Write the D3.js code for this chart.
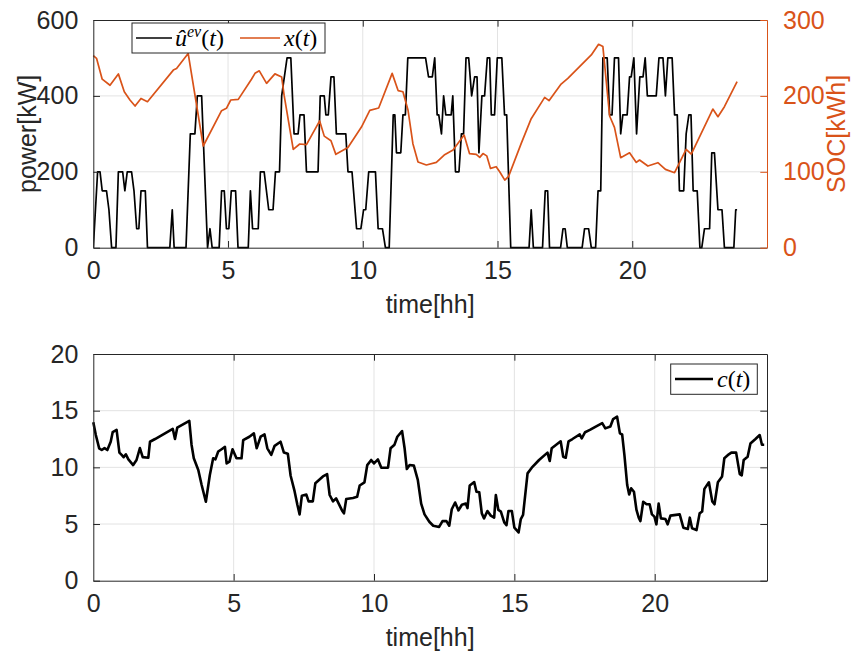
<!DOCTYPE html>
<html>
<head>
<meta charset="utf-8">
<script src="https://cdn.jsdelivr.net/npm/d3@7"></script>
<style>
  html, body { margin: 0; padding: 0; background: #ffffff; }
  svg { display: block; }
</style>
</head>
<body>
<svg id="chart" width="852" height="653"></svg>
<script>
// ---------------- data ----------------
const uTime = [0,0.16,0.25,0.33,0.49,0.58,0.68,0.84,0.93,1.09,1.17,1.26,1.42,1.51,1.61,1.69,1.77,1.93,2.01,2.84,2.93,3.0,3.44,3.60,3.77,3.86,4.02,4.24,4.33,4.41,4.67,4.76,4.86,4.94,5.03,5.12,5.28,5.37,5.75,5.83,5.91,6.12,6.2,6.34,6.51,6.67,6.76,6.91,6.99,7.19,7.33,7.45,7.6,7.67,7.82,7.91,8.34,8.42,8.57,8.63,8.72,8.82,8.93,9.02,9.37,9.45,9.6,9.77,9.93,10.03,10.11,10.22,10.47,10.57,10.73,10.84,10.98,11.13,11.19,11.25,11.41,11.49,11.58,11.67,12.33,12.44,12.58,12.67,12.76,12.82,12.92,13.0,13.08,13.28,13.34,13.44,13.57,13.66,13.74,13.83,13.93,14.04,14.15,14.24,14.31,14.42,14.52,14.62,14.71,14.77,14.89,14.99,15.16,15.26,15.34,15.49,16.17,16.25,16.33,16.67,16.77,16.86,16.93,17.34,17.43,17.51,17.59,18.14,18.23,18.38,18.48,18.64,18.73,18.83,18.91,19.07,19.16,19.25,19.34,19.49,19.57,19.65,19.81,19.9,19.96,20.06,20.16,20.28,20.4,20.48,20.56,20.89,20.99,21.14,21.23,21.32,21.48,21.57,21.67,21.75,21.91,22.0,22.1,22.18,22.26,22.41,22.51,22.58,22.68,22.87,22.95,23.05,23.18,23.33,23.42,23.77,23.84,23.89];
const uPower = [0,200,200,150,150,100,0,0,200,200,150,200,200,150,50,50,150,150,0,0,100,0,0,300,300,400,400,0,50,0,0,150,150,50,50,150,150,0,0,150,50,50,200,200,100,100,200,200,400,500,500,300,300,350,350,200,200,400,400,350,350,450,450,300,300,200,200,50,50,100,100,200,200,50,50,0,0,350,350,250,250,350,350,500,500,450,450,500,350,350,300,400,350,350,400,200,200,300,300,500,500,400,450,450,250,400,400,500,500,350,350,500,500,350,350,0,0,100,0,0,150,150,0,0,50,50,0,0,50,50,0,0,150,150,500,500,350,350,500,500,300,350,350,450,450,500,300,450,450,500,400,400,500,500,400,500,500,350,350,150,150,300,350,350,150,150,0,0,50,50,250,250,100,100,0,0,100,100];

const xTime = [0,0.12,0.33,0.62,0.93,1.15,1.36,1.55,1.77,2.01,2.97,3.09,3.52,4.08,4.76,4.94,5.1,5.38,5.87,6.0,6.16,6.43,6.74,6.99,7.08,7.42,7.66,7.91,8.4,8.57,8.82,9.0,9.45,9.95,10.26,10.59,11.09,11.31,11.49,11.68,11.86,12.05,12.36,12.73,13.02,13.35,13.76,13.96,14.21,14.34,14.46,14.6,14.74,14.95,15.08,15.27,15.41,15.88,16.25,16.75,16.91,17.36,17.61,18.48,18.75,18.91,19.16,19.34,19.57,19.9,20.15,20.27,20.58,20.95,21.23,21.57,22.0,22.19,22.99,23.18,23.42,23.89];
const xSOC = [253,249.5,222,214,229,205.5,194.6,186.6,196.7,192.3,234,236,256,134,180.5,183.6,194.6,195.4,222,229.7,233,216.5,229,225,201,129.6,136.6,135.7,167,147,141,123,132,159,181,184,229.7,207,205.5,181,137,113,109,112.4,122,128.7,148.4,124,123,119,124,121,104.5,106.7,100,89,94,137.5,170,198,193.7,215.6,223,254,268,265,173.5,158.5,118.6,125,112.4,115.5,107.6,112,103.2,98.8,129.6,123.4,182.7,172.6,185.8,218.7];

const cTime = [0,0.09,0.21,0.30,0.4,0.5,0.62,0.69,0.83,0.93,1.01,1.08,1.16,1.25,1.42,1.54,1.66,1.76,1.96,2.02,2.2,2.83,2.91,2.99,3.42,3.5,3.58,3.74,3.86,4.01,4.15,4.27,4.35,4.45,4.57,4.69,4.75,4.85,4.96,5.1,5.28,5.34,5.56,5.72,5.82,5.96,6.1,6.2,6.34,6.46,6.67,6.79,6.93,7.03,7.17,7.27,7.35,7.43,7.59,7.67,7.82,7.91,8.18,8.33,8.42,8.54,8.65,8.86,8.93,9.01,9.25,9.4,9.49,9.66,9.76,9.9,10.0,10.14,10.26,10.5,10.59,10.73,10.83,11.0,11.09,11.17,11.27,11.42,11.56,11.68,11.8,11.97,12.11,12.32,12.44,12.58,12.68,12.77,12.89,13.01,13.13,13.27,13.33,13.41,13.57,13.65,13.75,13.84,13.92,14.04,14.16,14.28,14.34,14.43,14.52,14.64,14.72,14.79,14.91,15.0,15.15,15.23,15.31,15.47,15.62,15.88,16.18,16.26,16.33,16.65,16.74,16.83,16.93,17.07,17.33,17.4,17.52,17.69,17.9,18.13,18.24,18.42,18.52,18.66,18.76,18.84,18.92,19.02,19.09,19.16,19.26,19.35,19.43,19.49,19.59,19.71,19.82,19.9,19.99,20.06,20.14,20.22,20.38,20.46,20.56,20.89,21.02,21.18,21.25,21.33,21.49,21.6,21.69,21.77,21.93,22.05,22.13,22.25,22.4,22.48,22.64,22.73,22.9,23.03,23.1,23.17,23.31,23.41,23.59,23.74,23.82,23.9];
const cPrice = [13.97,12.85,11.68,11.53,11.7,11.53,12.26,13.1,13.3,11.3,11.1,10.9,11.15,10.7,10.2,10.65,11.7,10.9,10.85,12.26,12.5,13.4,12.5,13.5,14.1,12.0,10.8,9.76,8.44,6.97,9.3,10.8,10.7,11.4,11.6,11.8,10.35,10.5,11.6,10.8,10.8,12.4,12.7,13.0,11.68,12.7,12.9,11.68,11.1,11.9,12.26,11.3,11.2,9.26,7.9,6.7,5.85,7.5,7.6,7.0,7.0,8.6,9.2,9.4,7.56,7.0,7.26,6.2,5.94,7.2,7.3,7.4,8.4,8.68,10.2,10.65,10.35,10.7,9.97,9.97,11.68,12.0,12.7,13.2,11.68,9.85,10.2,10.15,8.9,6.8,5.85,5.2,4.85,4.74,5.26,5.26,4.85,6.3,6.9,6.2,6.7,6.8,6.4,8.4,8.7,7.85,7.8,5.94,5.5,6.15,5.74,5.56,7.56,6.24,6.1,5.15,4.9,6.15,6.15,4.68,4.26,5.44,5.8,9.47,9.97,10.65,11.3,10.56,11.68,12.3,10.94,10.85,12.3,12.5,12.9,12.56,13.1,13.3,13.6,13.9,13.44,13.6,14.26,14.47,13.0,12.9,11.1,8.44,7.6,8.15,7.85,6.24,5.56,5.26,6.97,6.74,6.74,5.85,5.65,4.97,6.8,5.5,5.44,4.97,5.74,5.85,4.68,4.56,5.56,4.62,4.47,5.94,6.1,8.1,8.68,7.0,6.74,8.68,9.2,10.8,11.15,11.3,11.3,9.4,9.3,10.65,10.94,12.1,12.5,12.85,12.0,12.0];

const timeTicks = [0, 5, 10, 15, 20];
const powerTicks = [0, 200, 400, 600];
const socTicks = [0, 100, 200, 300];
const priceTicks = [0, 5, 10, 15, 20];

// ---------------- styling ----------------
const AX = "#262626";
const GRID = "#e3e3e3";
const ORANGE = "#D95319";
const FONT = "'Liberation Sans', Arial, sans-serif";
const SERIF = "'Liberation Serif', 'DejaVu Serif', serif";
const FS = 25;
const TICK = 6.7;

const svg = d3.select("#chart");

function panel(opt) {
  const {left, right, top, bottom} = opt;
  const g = svg.append("g");
  const x = d3.scaleLinear().domain(opt.xDomain).range([left, right]);
  const y = d3.scaleLinear().domain(opt.yDomain).range([bottom, top]);

  // grid
  g.append("g").selectAll("line.gx").data(opt.xTicks.filter(t => t > opt.xDomain[0]))
    .join("line").attr("x1", d => x(d)).attr("x2", d => x(d))
    .attr("y1", top).attr("y2", bottom).attr("stroke", GRID).attr("stroke-width", 1);
  g.append("g").selectAll("line.gy").data(opt.yTicks.filter(t => t > opt.yDomain[0] && t < opt.yDomain[1]))
    .join("line").attr("x1", left).attr("x2", right)
    .attr("y1", d => y(d)).attr("y2", d => y(d)).attr("stroke", GRID).attr("stroke-width", 1);

  return {g, x, y};
}

function frame(p, opt) {
  const {g, x, y} = p;
  const {left, right, top, bottom} = opt;
  // bottom axis
  const xb = d3.axisBottom(x).tickValues(opt.xTicks).tickSizeInner(-TICK).tickSizeOuter(0).tickPadding(14);
  const gb = g.append("g").attr("transform", `translate(0,${bottom})`).call(xb);
  // top mirror ticks
  const xt = d3.axisTop(x).tickValues(opt.xTicks).tickSizeInner(-TICK).tickSizeOuter(0).tickFormat("");
  const gt = g.append("g").attr("transform", `translate(0,${top})`).call(xt);
  // left axis
  const yl = d3.axisLeft(y).tickValues(opt.yTicks).tickSizeInner(-TICK).tickSizeOuter(0).tickPadding(15);
  const gl = g.append("g").attr("transform", `translate(${left},0)`).call(yl);
  // right axis
  let yr;
  if (opt.rightScale) {
    yr = d3.axisRight(opt.rightScale).tickValues(opt.rightTicks).tickSizeInner(-TICK).tickSizeOuter(0).tickPadding(16);
  } else {
    yr = d3.axisRight(y).tickValues(opt.yTicks).tickSizeInner(-TICK).tickSizeOuter(0).tickFormat("");
  }
  const gr = g.append("g").attr("transform", `translate(${right},0)`).call(yr);

  [gb, gt, gl].forEach(a => {
    a.selectAll("path.domain").attr("stroke", AX).attr("stroke-width", 1);
    a.selectAll(".tick line").attr("stroke", AX).attr("stroke-width", 1);
    a.selectAll(".tick text").attr("fill", AX).style("font-family", FONT).style("font-size", FS + "px");
  });
  const rc = opt.rightColor || AX;
  gr.selectAll("path.domain").attr("stroke", rc).attr("stroke-width", 1);
  gr.selectAll(".tick line").attr("stroke", rc).attr("stroke-width", 1);
  gr.selectAll(".tick text").attr("fill", rc).style("font-family", FONT).style("font-size", FS + "px");
  // remove overlapping extreme tick marks on box corners (keep labels)
  [gb, gt].forEach(a => a.selectAll(".tick").filter(d => d === opt.xDomain[0]).select("line").remove());
}

// ---------------- top panel ----------------
const T = {left: 93.3, right: 767, top: 20, bottom: 247.7,
  xDomain: [0, 25], yDomain: [0, 600], xTicks: timeTicks, yTicks: powerTicks};
const pT = panel(T);
const ySOC = d3.scaleLinear().domain([0, 300]).range([T.bottom, T.top]);

const clipT = svg.append("clipPath").attr("id", "clipT").append("rect")
  .attr("x", T.left).attr("y", T.top - 2).attr("width", T.right - T.left).attr("height", T.bottom - T.top + 4);

const uData = uTime.map((t, i) => [t, uPower[i]]);
const xData = xTime.map((t, i) => [t, xSOC[i]]);

pT.g.append("path").datum(uData)
  .attr("clip-path", "url(#clipT)")
  .attr("fill", "none").attr("stroke", "#000").attr("stroke-width", 1.7).attr("stroke-linejoin", "round")
  .attr("d", d3.line().x(d => pT.x(d[0])).y(d => pT.y(d[1])));

pT.g.append("path").datum(xData)
  .attr("fill", "none").attr("stroke", ORANGE).attr("stroke-width", 1.7).attr("stroke-linejoin", "round")
  .attr("d", d3.line().x(d => pT.x(d[0])).y(d => ySOC(d[1])));

frame(pT, Object.assign({}, T, {rightScale: ySOC, rightTicks: socTicks, rightColor: ORANGE}));

// top legend
const lgT = svg.append("g");
lgT.append("rect").attr("x", 132).attr("y", 23).attr("width", 193).attr("height", 30)
  .attr("fill", "#fff").attr("stroke", AX).attr("stroke-width", 1);
lgT.append("line").attr("x1", 136).attr("x2", 172).attr("y1", 38).attr("y2", 38)
  .attr("stroke", "#000").attr("stroke-width", 1.7);
const t1 = lgT.append("text").attr("x", 175).attr("y", 46)
  .style("font-family", SERIF).style("font-size", "24px").style("font-style", "italic").attr("fill", "#000");
t1.append("tspan").text("û");
t1.append("tspan").attr("dy", -9).style("font-size", "16px").text("ev");
t1.append("tspan").attr("dy", 9).style("font-style", "normal").text("(");
t1.append("tspan").text("t");
t1.append("tspan").style("font-style", "normal").text(")");
lgT.append("line").attr("x1", 240).attr("x2", 280).attr("y1", 38).attr("y2", 38)
  .attr("stroke", ORANGE).attr("stroke-width", 1.7);
const t2 = lgT.append("text").attr("x", 284).attr("y", 46)
  .style("font-family", SERIF).style("font-size", "24px").style("font-style", "italic").attr("fill", "#000");
t2.append("tspan").text("x");
t2.append("tspan").style("font-style", "normal").text("(");
t2.append("tspan").text("t");
t2.append("tspan").style("font-style", "normal").text(")");

// top labels
svg.append("text").attr("transform", `translate(36,${(T.top + T.bottom) / 2}) rotate(-90)`)
  .attr("text-anchor", "middle").style("font-family", FONT).style("font-size", FS + "px").attr("fill", AX)
  .text("power[kW]");
svg.append("text").attr("transform", `translate(845,${(T.top + T.bottom) / 2}) rotate(-90)`)
  .attr("text-anchor", "middle").style("font-family", FONT).style("font-size", FS + "px").attr("fill", ORANGE)
  .text("SOC[kWh]");
svg.append("text").attr("x", (T.left + T.right) / 2).attr("y", 313)
  .attr("text-anchor", "middle").style("font-family", FONT).style("font-size", FS + "px").attr("fill", AX)
  .text("time[hh]");

// ---------------- bottom panel ----------------
const B = {left: 93.3, right: 767, top: 354, bottom: 580.7,
  xDomain: [0, 24], yDomain: [0, 20], xTicks: timeTicks, yTicks: priceTicks};
const pB = panel(B);
const cData = cTime.map((t, i) => [t, cPrice[i]]);
pB.g.append("path").datum(cData)
  .attr("fill", "none").attr("stroke", "#000").attr("stroke-width", 2.6).attr("stroke-linejoin", "round")
  .attr("d", d3.line().x(d => pB.x(d[0])).y(d => pB.y(d[1])));
frame(pB, B);

// bottom legend
const lgB = svg.append("g");
lgB.append("rect").attr("x", 670.7).attr("y", 364).attr("width", 86.6).attr("height", 30.3)
  .attr("fill", "#fff").attr("stroke", AX).attr("stroke-width", 1);
lgB.append("line").attr("x1", 675).attr("x2", 713).attr("y1", 379).attr("y2", 379)
  .attr("stroke", "#000").attr("stroke-width", 2.6);
const t3 = lgB.append("text").attr("x", 717).attr("y", 387)
  .style("font-family", SERIF).style("font-size", "24px").style("font-style", "italic").attr("fill", "#000");
t3.append("tspan").text("c");
t3.append("tspan").style("font-style", "normal").text("(");
t3.append("tspan").text("t");
t3.append("tspan").style("font-style", "normal").text(")");

svg.append("text").attr("x", (B.left + B.right) / 2).attr("y", 646)
  .attr("text-anchor", "middle").style("font-family", FONT).style("font-size", FS + "px").attr("fill", AX)
  .text("time[hh]");
</script>
</body>
</html>
